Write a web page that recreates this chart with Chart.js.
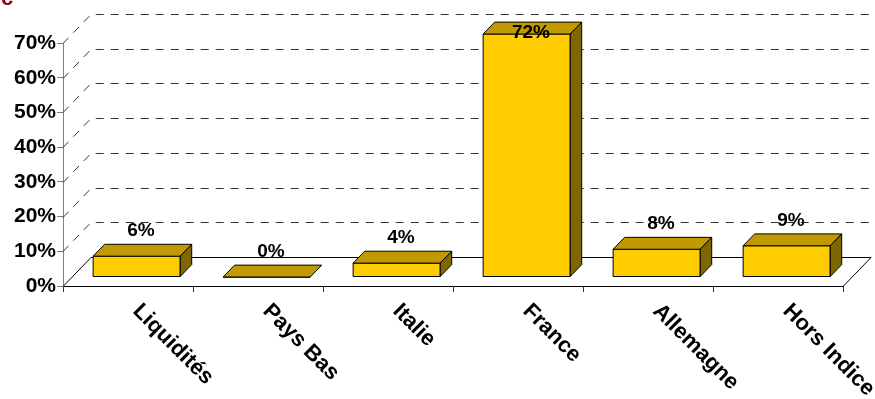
<!DOCTYPE html>
<html>
<head>
<meta charset="utf-8">
<script src="https://cdn.jsdelivr.net/npm/chart.js@4.4.0/dist/chart.umd.min.js"></script>
<style>
  html, body { margin: 0; padding: 0; background: #fff; }
  #wrap { width: 875px; height: 399px; }
</style>
</head>
<body>
<div id="wrap"><canvas id="myChart"></canvas></div>
<script>
// données
const categories = ['Liquidités', 'Pays Bas', 'Italie', 'France', 'Allemagne', 'Hors Indice'];
const values = [0.06, 0, 0.04, 0.72, 0.08, 0.09];
const valueLabels = ['6%', '0%', '4%', '72%', '8%', '9%'];
const yTickLabels = ['0%', '10%', '20%', '30%', '40%', '50%', '60%', '70%'];

// profondeur de la "3D" (façon Excel)
const DX = 28, DY = -29;
const F1 = 0.31, F2 = 0.72;   // face avant / arrière des barres dans la profondeur
const FONT = "'Liberation Sans', Arial, sans-serif";

const fake3d = {
  id: 'fake3d',
  beforeDatasetsDraw(chart) {
    const { ctx, chartArea: a } = chart;
    const y = chart.scales.y;
    ctx.save();
    ctx.lineWidth = 1;
    // lignes de grille pointillées (mur du fond)
    ctx.strokeStyle = '#333';
    ctx.setLineDash([8, 7]);
    y.ticks.forEach(t => {
      if (t.value === 0) return;
      const py = Math.round(y.getPixelForValue(t.value)) + 0.5;
      ctx.beginPath();
      ctx.moveTo(a.left, py);
      ctx.lineTo(a.left + DX, py + DY);
      ctx.lineTo(a.right + DX, py + DY);
      ctx.stroke();
    });
    // sol
    ctx.setLineDash([]);
    ctx.strokeStyle = '#000';
    const b = Math.round(a.bottom) + 0.5;
    ctx.beginPath();
    ctx.moveTo(a.left, b);
    ctx.lineTo(a.left + DX, b + DY);
    ctx.lineTo(a.right + DX, b + DY);
    ctx.lineTo(a.right, b);
    ctx.stroke();
    ctx.restore();
  },
  afterDatasetsDraw(chart) {
    const { ctx } = chart;
    const y = chart.scales.y;
    const meta = chart.getDatasetMeta(0);
    ctx.save();
    ctx.lineWidth = 1;
    ctx.strokeStyle = '#000';
    ctx.lineJoin = 'round';
    meta.data.forEach((el, i) => {
      const top = Math.max(el.y, y.top);
      const x0 = el.x - el.width / 2 + F1 * DX;
      const x1 = el.x + el.width / 2 + F1 * DX;
      const yt = top + F1 * DY;
      const yb = el.base + F1 * DY;
      const ddx = (F2 - F1) * DX, ddy = (F2 - F1) * DY;
      // face avant
      ctx.fillStyle = '#FFCC00';
      ctx.beginPath();
      ctx.rect(x0, yt, x1 - x0, yb - yt);
      ctx.fill(); ctx.stroke();
      // dessus
      ctx.fillStyle = '#C09A00';
      ctx.beginPath();
      ctx.moveTo(x0, yt);
      ctx.lineTo(x0 + ddx, yt + ddy);
      ctx.lineTo(x1 + ddx, yt + ddy);
      ctx.lineTo(x1, yt);
      ctx.closePath();
      ctx.fill(); ctx.stroke();
      // côté droit
      if (yb - yt > 0.5) {
        ctx.fillStyle = '#806600';
        ctx.beginPath();
        ctx.moveTo(x1, yt);
        ctx.lineTo(x1 + ddx, yt + ddy);
        ctx.lineTo(x1 + ddx, yb + ddy);
        ctx.lineTo(x1, yb);
        ctx.closePath();
        ctx.fill(); ctx.stroke();
      }
      // étiquette de valeur
      ctx.fillStyle = '#000';
      ctx.font = 'bold 19px ' + FONT;
      ctx.textAlign = 'center';
      ctx.textBaseline = 'middle';
      ctx.fillText(valueLabels[i], el.x + 13, Math.max(yt - 25, y.top - 10));
    });

    // libellés des catégories, tournés à 45°
    const x = chart.scales.x;
    ctx.font = 'bold 22px ' + FONT;
    ctx.textAlign = 'left';
    ctx.textBaseline = 'top';
    categories.forEach((c, i) => {
      const px = x.getPixelForValue(i);
      ctx.save();
      ctx.translate(px + 16, 300);
      ctx.rotate(Math.PI / 4);
      ctx.fillText(c, 0, 0);
      ctx.restore();
    });

    // bout de titre coupé en haut à gauche
    ctx.fillStyle = '#990000';
    ctx.font = 'bold 22px ' + FONT;
    ctx.textBaseline = 'alphabetic';
    ctx.fillText('c', 1, 5);
    ctx.restore();
  }
};

const ctx = document.getElementById('myChart');
new Chart(ctx, {
  type: 'bar',
  data: {
    labels: categories,
    datasets: [{
      data: values,
      backgroundColor: 'rgba(0,0,0,0)',
      borderWidth: 0,
      categoryPercentage: 1,
      barPercentage: 0.67
    }]
  },
  options: {
    responsive: true,
    maintainAspectRatio: false,
    animation: false,
    layout: { padding: { top: 43, right: 32, left: 0, bottom: 0 } },
    scales: {
      x: {
        afterFit(s) { s.height = 113; },
        grid: { drawOnChartArea: false, drawTicks: true, tickLength: 6, color: '#333' },
        border: { display: true, color: '#000', width: 1 },
        ticks: { display: false }
      },
      y: {
        min: 0,
        max: 0.7,
        afterFit(s) { s.width = 63; },
        grid: { drawOnChartArea: false, drawTicks: true, tickLength: 6, color: '#808080' },
        border: { display: true, color: '#808080', width: 1 },
        ticks: {
          stepSize: 0.1,
          padding: 1,
          color: '#000',
          font: { family: FONT, size: 21, weight: 'bold' },
          callback: (v, i) => yTickLabels[i]
        }
      }
    },
    plugins: {
      legend: { display: false },
      tooltip: { enabled: false },
      title: { display: false }
    }
  },
  plugins: [fake3d]
});
</script>
</body>
</html>
